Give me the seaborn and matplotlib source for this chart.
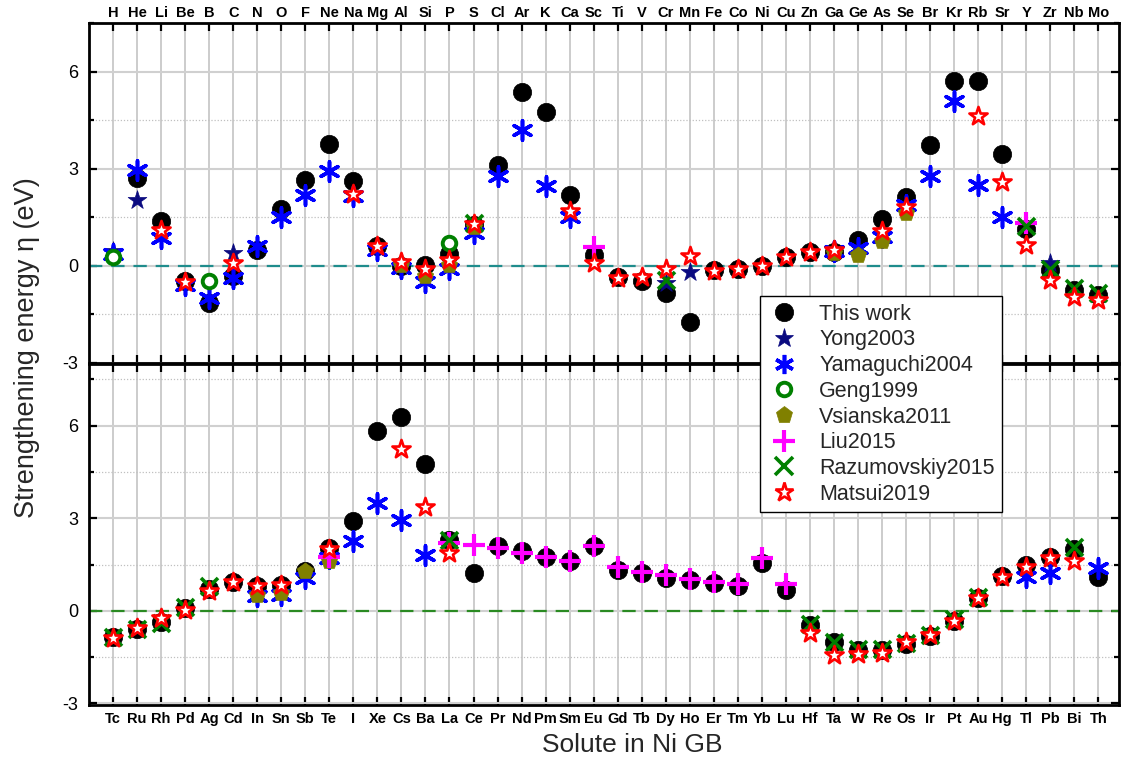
import numpy as np
import pandas as pd
import matplotlib
matplotlib.use("Agg")
import matplotlib.pyplot as plt
from matplotlib.lines import Line2D
from matplotlib.ticker import MultipleLocator
import seaborn as sns

# ---------------- data ----------------
elements_top = ["H", "He", "Li", "Be", "B", "C", "N", "O", "F", "Ne", "Na", "Mg", "Al", "Si",
                "P", "S", "Cl", "Ar", "K", "Ca", "Sc", "Ti", "V", "Cr", "Mn", "Fe", "Co", "Ni",
                "Cu", "Zn", "Ga", "Ge", "As", "Se", "Br", "Kr", "Rb", "Sr", "Y", "Zr", "Nb", "Mo"]
elements_bottom = ["Tc", "Ru", "Rh", "Pd", "Ag", "Cd", "In", "Sn", "Sb", "Te", "I", "Xe", "Cs",
                   "Ba", "La", "Ce", "Pr", "Nd", "Pm", "Sm", "Eu", "Gd", "Tb", "Dy", "Ho", "Er",
                   "Tm", "Yb", "Lu", "Hf", "Ta", "W", "Re", "Os", "Ir", "Pt", "Au", "Hg", "Tl",
                   "Pb", "Bi", "Th"]

this_work_top = {"He": 2.72, "Li": 1.37, "Be": -0.48, "B": -1.15, "C": -0.31, "N": 0.50,
                 "O": 1.75, "F": 2.66, "Ne": 3.76, "Na": 2.63, "Mg": 0.62, "Al": 0.00,
                 "Si": 0.03, "P": 0.37, "S": 1.27, "Cl": 3.12, "Ar": 5.36, "K": 4.74,
                 "Ca": 2.20, "Sc": 0.34, "Ti": -0.33, "V": -0.46, "Cr": -0.84, "Mn": -1.74,
                 "Fe": -0.14, "Co": -0.10, "Ni": -0.02, "Cu": 0.27, "Zn": 0.43, "Ga": 0.44,
                 "Ge": 0.80, "As": 1.44, "Se": 2.14, "Br": 3.72, "Kr": 5.70, "Rb": 5.70,
                 "Sr": 3.46, "Y": 1.13, "Zr": -0.14, "Nb": -0.74, "Mo": -0.90}
this_work_bottom = {"Tc": -0.86, "Ru": -0.60, "Rh": -0.37, "Pd": 0.08, "Ag": 0.70, "Cd": 0.93,
                    "In": 0.80, "Sn": 0.85, "Sb": 1.28, "Te": 2.03, "I": 2.90, "Xe": 5.84,
                    "Cs": 6.28, "Ba": 4.76, "La": 2.30, "Ce": 1.22, "Pr": 2.11, "Nd": 1.95,
                    "Pm": 1.76, "Sm": 1.60, "Eu": 2.09, "Gd": 1.33, "Tb": 1.22, "Dy": 1.08,
                    "Ho": 1.00, "Er": 0.90, "Tm": 0.82, "Yb": 1.55, "Lu": 0.68, "Hf": -0.45,
                    "Ta": -1.02, "W": -1.26, "Re": -1.26, "Os": -1.08, "Ir": -0.80, "Pt": -0.32,
                    "Au": 0.41, "Hg": 1.14, "Tl": 1.49, "Pb": 1.74, "Bi": 2.00, "Th": 1.11}

yong_top = {"H": 0.45, "He": 2.04, "C": 0.40, "Cr": -0.53, "Mn": -0.20, "Fe": -0.17, "Zr": 0.08}
yong_bottom = {}

yamaguchi_top = {"H": 0.36, "He": 2.95, "Li": 0.86, "Be": -0.60, "B": -0.98, "C": -0.38,
                 "N": 0.60, "O": 1.52, "F": 2.20, "Ne": 2.92, "Na": 2.17, "Mg": 0.50,
                 "Al": -0.07, "Si": -0.50, "P": -0.09, "S": 1.00, "Cl": 2.78, "Ar": 4.19,
                 "K": 2.48, "Ca": 1.51, "Ga": 0.45, "Ge": 0.55, "As": 0.90, "Se": 1.89,
                 "Br": 2.78, "Kr": 5.08, "Rb": 2.50, "Sr": 1.50}
yamaguchi_bottom = {"In": 0.48, "Sn": 0.52, "Sb": 1.06, "Te": 1.72, "I": 2.25, "Xe": 3.49,
                    "Cs": 2.93, "Ba": 1.82, "Tl": 1.11, "Pb": 1.22, "Th": 1.39}

geng_top = {"H": 0.27, "B": -0.48, "P": 0.70}
geng_bottom = {}

vsianska_top = {"Al": 0.04, "Si": -0.30, "P": 0.03, "S": 1.20, "Ga": 0.40, "Ge": 0.34,
                "As": 0.78, "Se": 1.63}
vsianska_bottom = {"In": 0.52, "Sn": 0.57, "Sb": 1.28, "Te": 1.60}

liu_top = {"Sc": 0.58, "Y": 1.32}
liu_bottom = {"Te": 1.76, "La": 2.20, "Ce": 2.12, "Pr": 2.03, "Nd": 1.87, "Pm": 1.74,
              "Sm": 1.62, "Eu": 2.11, "Gd": 1.41, "Tb": 1.27, "Dy": 1.17, "Ho": 1.04,
              "Er": 0.95, "Tm": 0.86, "Yb": 1.71, "Lu": 0.86}

razumovskiy_top = {"S": 1.33, "Cr": -0.45, "Y": 1.22, "Zr": -0.10, "Nb": -0.70, "Mo": -0.85}
razumovskiy_bottom = {"Tc": -0.85, "Ru": -0.58, "Rh": -0.40, "Pd": 0.14, "Ag": 0.79, "La": 2.30,
                      "Hf": -0.42, "Ta": -1.00, "W": -1.25, "Re": -1.25, "Os": -1.05,
                      "Ir": -0.78, "Pt": -0.26, "Au": 0.46, "Bi": 2.07}

matsui_top = {"Li": 1.12, "Be": -0.50, "C": 0.08, "Na": 2.22, "Mg": 0.62, "Al": 0.13,
              "Si": -0.10, "P": 0.19, "S": 1.30, "Ca": 1.68, "Sc": 0.08, "Ti": -0.38,
              "V": -0.33, "Cr": -0.10, "Mn": 0.29, "Fe": -0.15, "Co": -0.10, "Ni": -0.02,
              "Cu": 0.27, "Zn": 0.43, "Ga": 0.48, "As": 1.06, "Se": 1.83, "Rb": 4.62,
              "Sr": 2.58, "Y": 0.65, "Zr": -0.43, "Nb": -0.95, "Mo": -1.05}
matsui_bottom = {"Tc": -0.89, "Ru": -0.55, "Rh": -0.22, "Pd": 0.03, "Ag": 0.65, "Cd": 0.92,
                 "In": 0.81, "Sn": 0.84, "Te": 2.00, "Cs": 5.24, "Ba": 3.35, "La": 1.89,
                 "Hf": -0.72, "Ta": -1.43, "W": -1.39, "Re": -1.35, "Os": -1.00, "Ir": -0.77,
                 "Pt": -0.34, "Au": 0.41, "Hg": 1.11, "Tl": 1.43, "Pb": 1.71, "Bi": 1.60}

series_names = ["This work", "Yong2003", "Yamaguchi2004", "Geng1999", "Vsianska2011",
                "Liu2015", "Razumovskiy2015", "Matsui2019"]
top_values = [this_work_top, yong_top, yamaguchi_top, geng_top, vsianska_top,
              liu_top, razumovskiy_top, matsui_top]
bottom_values = [this_work_bottom, yong_bottom, yamaguchi_bottom, geng_bottom, vsianska_bottom,
                 liu_bottom, razumovskiy_bottom, matsui_bottom]

# ---------------- marker styles ----------------
ASTERISK = (6, 2, 0)
styles = {
    "This work":       dict(marker="o", s=175, color="black", edgecolor="black", linewidth=0.5),
    "Yong2003":        dict(marker="*", s=200, color="#0a0a80", edgecolor="#0a0a80", linewidth=0.5),
    "Yamaguchi2004":   dict(marker=ASTERISK, s=190, color="#0000ff", linewidth=2.6),
    "Geng1999":        dict(marker="o", s=95, color="white", edgecolor="#008000", linewidth=2.8),
    "Vsianska2011":    dict(marker="p", s=150, color="#808000", edgecolor="#808000", linewidth=0.5),
    "Liu2015":         dict(marker="+", s=230, color="#ff00ff", linewidth=3.0),
    "Razumovskiy2015": dict(marker="x", s=150, color="#008000", linewidth=2.6),
    "Matsui2019":      dict(marker="*", s=190, color="white", edgecolor="#ff0000", linewidth=1.9),
}

sns.set_theme(style="ticks")
plt.rcParams["font.family"] = ["Liberation Sans", "DejaVu Sans"]
plt.rcParams["axes.linewidth"] = 2.0
plt.rcParams["axes.unicode_minus"] = False

fig = plt.figure(figsize=(11.21, 7.63), dpi=100)
ax_top = fig.add_axes([0.0794, 0.5243, 0.9186, 0.4456])
ax_bot = fig.add_axes([0.0794, 0.0760, 0.9186, 0.4470])


def draw_panel(ax, elements, values_list, zero_color):
    pos = {el: i for i, el in enumerate(elements)}
    for k, (name, vals) in enumerate(zip(series_names, values_list)):
        if not vals:
            continue
        df = pd.DataFrame({"x": [pos[e] for e in vals], "y": list(vals.values())})
        sns.scatterplot(data=df, x="x", y="y", ax=ax, legend=False, zorder=3 + k,
                        **styles[name])
    ax.axhline(0, color=zero_color, lw=1.6, ls=(0, (6, 4)), zorder=2)
    ax.set_xlim(-1.0, 41.85)
    ax.set_xticks(np.arange(len(elements)))
    ax.set_xticklabels(elements, fontweight="bold", fontsize=10.5)
    ax.yaxis.set_major_locator(MultipleLocator(3))
    ax.yaxis.set_minor_locator(MultipleLocator(1.5))
    ax.set_xlabel("")
    ax.set_ylabel("")
    ax.grid(axis="x", which="major", color="#c4c4c4", lw=1.2)
    ax.grid(axis="y", which="major", color="#d0d0d0", lw=1.5)
    ax.grid(axis="y", which="minor", color="#c0c0c0", lw=0.9, ls=(0, (1, 1.5)))
    ax.set_axisbelow(True)
    ax.tick_params(axis="both", which="both", direction="in", top=True, right=True,
                   width=1.6, colors="black")
    ax.tick_params(axis="x", which="major", length=6, pad=3)
    ax.tick_params(axis="y", which="major", length=6, labelsize=13, pad=8)
    ax.tick_params(axis="y", which="minor", length=3.5)
    for sp in ax.spines.values():
        sp.set_linewidth(2.0)
        sp.set_color("black")


draw_panel(ax_top, elements_top, top_values, "#1f8c8c")
draw_panel(ax_bot, elements_bottom, bottom_values, "#2a8a22")

ax_top.set_ylim(-3, 7.5)
ax_top.set_yticks([-3, 0, 3, 6])
ax_top.tick_params(axis="x", labeltop=True, labelbottom=False, pad=2)
ax_bot.set_ylim(-3.05, 8.0)
ax_bot.set_yticks([-3, 0, 3, 6])
ax_bot.tick_params(axis="x", labeltop=False, labelbottom=True, pad=5)

fig.text(0.024, 0.545, "Strengthening energy \u03b7 (eV)", rotation=90, ha="center",
         va="center", fontsize=19.5)
fig.text(0.564, 0.024, "Solute in Ni GB", ha="center", va="center", fontsize=19)

# legend shared by both panels
handles = []
for name in series_names:
    st = styles[name]
    mk = st["marker"]
    face = st["color"]
    edge = st.get("edgecolor", st["color"])
    ms = np.sqrt(st["s"])
    handles.append(Line2D([], [], ls="none", marker=mk, markersize=ms,
                          markerfacecolor=face, markeredgecolor=edge,
                          markeredgewidth=st["linewidth"], color=st["color"], label=name))
leg = fig.legend(handles=handles, loc="upper left", bbox_to_anchor=(0.678, 0.612),
                 fontsize=15.5, frameon=True, fancybox=False, edgecolor="black",
                 framealpha=1, labelspacing=0.22, handletextpad=0.9, borderpad=0.35,
                 handlelength=1.5, borderaxespad=0)
leg.get_frame().set_linewidth(1.0)

fig.savefig("out.png", dpi=100)
